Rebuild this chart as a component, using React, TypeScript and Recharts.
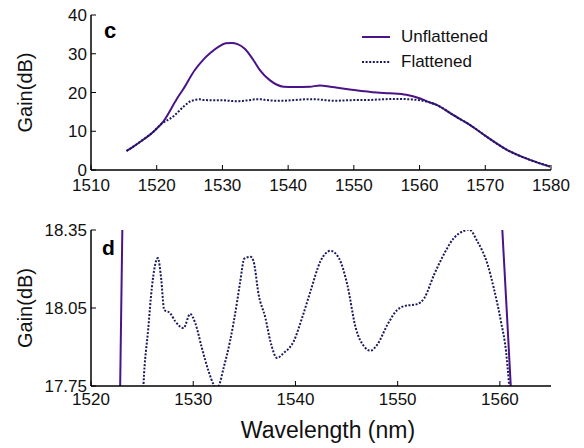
import { LineChart, Line, XAxis, YAxis, Legend } from 'recharts';

const FONT = '"Liberation Sans", Arial, Helvetica, sans-serif';
const UNFLAT_COLOR = '#4a1486';
const FLAT_COLOR = '#1a1a5c';
const DOTS = '2 1.6';

const seriesNames = ['Unflattened', 'Flattened'];

// Unflattened gain spectrum (nm, dB)
const unflatWl = [
  1515.4, 1516.5, 1517.5, 1519.5, 1521.0, 1522.8, 1523.1, 1524.05, 1525.8, 1527.0,
  1528.1, 1529.5, 1530.5, 1531.4, 1532.3, 1533.4, 1534.7, 1535.7, 1537.2, 1538.3,
  1539.3, 1541.0, 1543.3, 1544.85, 1546.4, 1549.4, 1553.5, 1555.5, 1558.0, 1560.1,
  1561.2, 1562.6, 1565.1, 1567.7, 1570.2, 1573.3, 1576.8, 1579.85,
];
const unflatGain = [
  4.9, 6.1, 7.3, 9.9, 12.5, 17.6, 18.45, 20.9, 25.8, 28.3,
  30.1, 31.9, 32.7, 32.8, 32.5, 31.3, 28.4, 25.8, 23.2, 22.0,
  21.5, 21.4, 21.5, 21.8, 21.5, 20.8, 20.0, 19.8, 19.4, 18.45,
  17.65, 16.8, 14.2, 11.6, 8.6, 5.2, 2.6, 0.9,
];

// Flattened gain spectrum (nm, dB)
const flatWl = [
  1515.4, 1517.5, 1519.5, 1520.5, 1522.5, 1524.05, 1524.6, 1525.13, 1525.6, 1525.95,
  1526.54, 1526.86, 1527.16, 1527.75, 1528.24, 1529.05, 1529.7, 1530.2, 1530.85, 1531.5,
  1532.0, 1532.25, 1532.5, 1532.97, 1533.6, 1534.3, 1534.6, 1535.0, 1535.6, 1535.9,
  1536.4, 1537.06, 1537.55, 1538.2, 1538.85, 1539.83, 1540.65, 1541.47, 1542.45, 1543.43,
  1544.25, 1545.07, 1545.9, 1546.7, 1547.35, 1548.0, 1549.0, 1549.97, 1550.6, 1551.9,
  1552.6, 1553.56, 1554.5, 1555.5, 1556.5, 1557.0, 1557.8, 1558.8, 1559.4, 1560.1,
  1560.6, 1560.9, 1561.2, 1562.6, 1565.1, 1567.7, 1570.2, 1573.3, 1576.8, 1579.85,
];
const flatGain = [
  4.9, 7.3, 9.9, 11.6, 13.8, 16.3, 17.1, 17.75, 17.97, 18.127,
  18.242, 18.165, 18.043, 18.03, 17.999, 17.973, 18.027, 17.992, 17.896, 17.807,
  17.755, 17.74, 17.75, 17.819, 17.922, 18.076, 18.153, 18.24, 18.247, 18.23,
  18.101, 18.012, 17.922, 17.858, 17.877, 17.922, 18.012, 18.114, 18.23, 18.27,
  18.242, 18.14, 17.973, 17.903, 17.886, 17.909, 17.986, 18.043, 18.057, 18.065,
  18.088, 18.178, 18.255, 18.319, 18.347, 18.352, 18.306, 18.217, 18.127, 17.999,
  17.883, 17.755, 17.6, 16.8, 14.2, 11.6, 8.6, 5.2, 2.6, 0.9,
];

const topXTicks = [1510, 1520, 1530, 1540, 1550, 1560, 1570, 1580];
const topYTicks = [0, 10, 20, 30, 40];
const zoomXTicks = [1520, 1530, 1540, 1550, 1560];
const zoomYTicks = [17.75, 18.05, 18.35];

const unflatData = unflatWl.map((x, i) => ({ x, y: unflatGain[i] }));
const flatData = flatWl.map((x, i) => ({ x, y: flatGain[i] }));

const tickStyle = { fill: '#111', fontSize: 17, fontFamily: FONT };
const axisLine = { stroke: '#000', strokeWidth: 1.5 };
const tickLine = { stroke: '#000', strokeWidth: 1 };

const renderLegend = ({ payload }: any) => {
  const items = [...(payload || [])].sort(
    (a: any, b: any) => seriesNames.indexOf(a.value) - seriesNames.indexOf(b.value)
  );
  return (
    <div style={{ fontFamily: FONT, fontSize: 17, color: '#111' }}>
      {items.map((entry: any) => (
        <div key={entry.value} style={{ display: 'flex', alignItems: 'center', height: 25 }}>
          <svg width={39} height={4}>
            <line
              x1={0}
              y1={2}
              x2={28}
              y2={2}
              stroke={entry.color}
              strokeWidth={2}
              strokeDasharray={entry.value === 'Flattened' ? DOTS : undefined}
            />
          </svg>
          <span>{entry.value}</span>
        </div>
      ))}
    </div>
  );
};

export default function App() {
  return (
    <div style={{ position: 'absolute', left: 0, top: 0, width: 584, height: 448, fontFamily: FONT, background: '#fff' }}>
      <div style={{ position: 'absolute', left: 0, top: 0 }}>
        <LineChart width={584} height={200} margin={{ top: 15, right: 33, bottom: 0, left: 0 }}>
          <XAxis
            dataKey="x"
            type="number"
            domain={[1510, 1580]}
            ticks={topXTicks}
            interval={0}
            height={30}
            tick={tickStyle}
            tickSize={-5}
            tickMargin={14}
            axisLine={axisLine}
            tickLine={tickLine}
            allowDataOverflow
          />
          <XAxis
            xAxisId="top"
            orientation="top"
            type="number"
            domain={[1510, 1580]}
            ticks={topXTicks}
            interval={0}
            height={0}
            tick={false}
            tickSize={-5}
            axisLine={axisLine}
            tickLine={tickLine}
          />
          <YAxis
            type="number"
            domain={[0, 40]}
            ticks={topYTicks}
            interval={0}
            width={91}
            tick={tickStyle}
            tickSize={-5}
            tickMargin={9}
            axisLine={axisLine}
            tickLine={tickLine}
            label={{ value: 'Gain(dB)', angle: -90, position: 'center', dx: -21, fill: '#111', fontSize: 20, fontFamily: FONT }}
            allowDataOverflow
          />
          <YAxis
            yAxisId="right"
            orientation="right"
            type="number"
            domain={[0, 40]}
            ticks={topYTicks}
            interval={0}
            width={0}
            tick={false}
            tickSize={-5}
            axisLine={axisLine}
            tickLine={tickLine}
          />
          <Legend
            content={renderLegend}
            layout="vertical"
            align="center"
            verticalAlign="middle"
            wrapperStyle={{ left: 362, top: 24, width: 'auto', height: 'auto' }}
          />
          <Line
            data={unflatData}
            dataKey="y"
            name="Unflattened"
            stroke={UNFLAT_COLOR}
            strokeWidth={2}
            dot={false}
            type="monotone"
            isAnimationActive={false}
          />
          <Line
            data={flatData}
            dataKey="y"
            name="Flattened"
            stroke={FLAT_COLOR}
            strokeWidth={2}
            strokeDasharray={DOTS}
            dot={false}
            type="monotone"
            isAnimationActive={false}
          />
        </LineChart>
      </div>

      <div style={{ position: 'absolute', left: 0, top: 200 }}>
        <LineChart width={584} height={248} margin={{ top: 30, right: 33, bottom: 0, left: 0 }}>
          <XAxis
            dataKey="x"
            type="number"
            domain={[1520, 1565]}
            ticks={zoomXTicks}
            interval={0}
            height={62}
            tick={tickStyle}
            tickSize={-5}
            tickMargin={12}
            axisLine={axisLine}
            tickLine={tickLine}
            allowDataOverflow
            label={{ value: 'Wavelength (nm)', position: 'insideBottom', offset: 10, dx: 7, fill: '#111', fontSize: 23, fontFamily: FONT }}
          />
          <XAxis
            xAxisId="top"
            orientation="top"
            type="number"
            domain={[1520, 1565]}
            ticks={zoomXTicks}
            interval={0}
            height={0}
            tick={false}
            tickSize={-5}
            axisLine={axisLine}
            tickLine={tickLine}
          />
          <YAxis
            type="number"
            domain={[17.75, 18.35]}
            ticks={zoomYTicks}
            interval={0}
            width={91}
            tick={tickStyle}
            tickFormatter={(v: number) => v.toFixed(2)}
            tickSize={-5}
            tickMargin={9}
            axisLine={axisLine}
            tickLine={tickLine}
            label={{ value: 'Gain(dB)', angle: -90, position: 'center', dx: -21, fill: '#111', fontSize: 20, fontFamily: FONT }}
            allowDataOverflow
          />
          <YAxis
            yAxisId="right"
            orientation="right"
            type="number"
            domain={[17.75, 18.35]}
            ticks={zoomYTicks}
            interval={0}
            width={0}
            tick={false}
            tickSize={-5}
            axisLine={axisLine}
            tickLine={tickLine}
          />
          <Line
            data={unflatData}
            dataKey="y"
            stroke={UNFLAT_COLOR}
            strokeWidth={2}
            dot={false}
            type="monotone"
            isAnimationActive={false}
          />
          <Line
            data={flatData}
            dataKey="y"
            stroke={FLAT_COLOR}
            strokeWidth={2}
            strokeDasharray={DOTS}
            dot={false}
            type="monotone"
            isAnimationActive={false}
          />
        </LineChart>
      </div>

      <svg width={584} height={448} style={{ position: 'absolute', left: 0, top: 0, pointerEvents: 'none' }}>
        <text x={104} y={38} fontSize={22} fontWeight="bold" fontFamily={FONT} fill="#000">c</text>
        <text x={102} y={255} fontSize={21} fontWeight="bold" fontFamily={FONT} fill="#000">d</text>
      </svg>
    </div>
  );
}
